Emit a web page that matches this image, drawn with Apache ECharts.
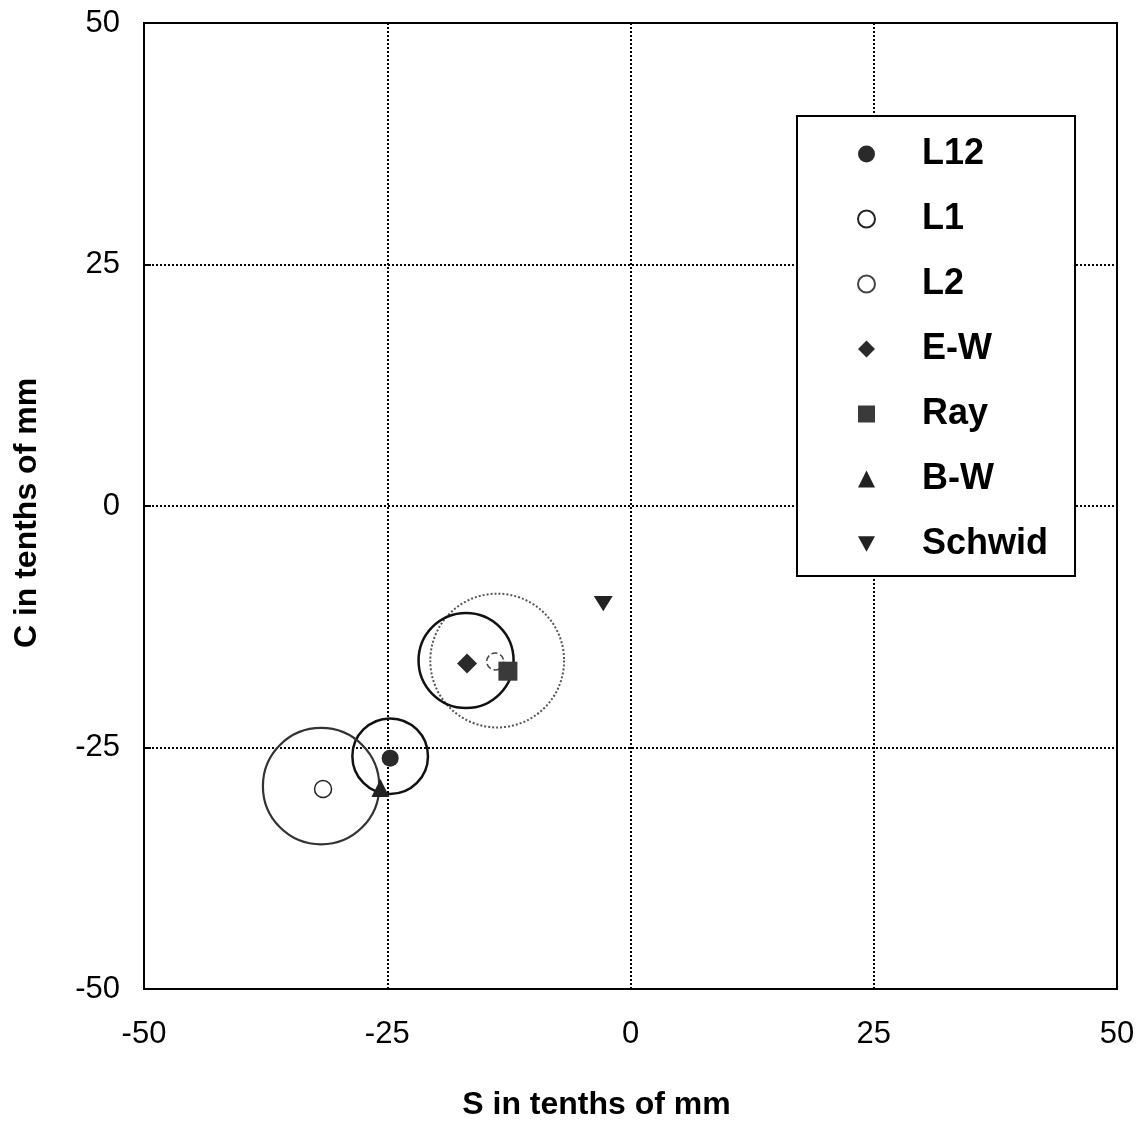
<!DOCTYPE html>
<html>
<head>
<meta charset="utf-8">
<script src="https://cdn.jsdelivr.net/npm/echarts@6/dist/echarts.min.js"></script>
<style>
html,body{margin:0;padding:0;background:#fff;}
#chart{width:1136px;height:1121px;}
</style>
</head>
<body>
<div id="chart"></div>
<script>
// ---- data ----
var seriesNames = ['L12', 'L1', 'L2', 'E-W', 'Ray', 'B-W', 'Schwid'];
var sValues = [-24.7, -31.6, -13.9, -16.8, -12.6, -25.7, -2.8];
var cValues = [-26.1, -29.3, -16.1, -16.3, -17.1, -29.2, -10.1];
var circleNames = ['L12', 'L1', 'L2', 'E-W'];
var circleS = [-24.7, -31.8, -13.7, -16.9];
var circleC = [-25.9, -29.0, -16.0, -16.0];
var circleR = [3.9, 6.0, 6.9, 4.9];
var tickValues = [-50, -25, 0, 25, 50];

// ---- styles ----
var markerStyles = {
  'L12':    {symbol: 'circle', size: 17, itemStyle: {color: '#2a2a2a', opacity: 1}},
  'L1':     {symbol: 'circle', size: 17, itemStyle: {color: '#fff', borderColor: '#222', borderWidth: 1.5, opacity: 1}},
  'L2':     {symbol: 'circle', size: 17, itemStyle: {color: '#fff', borderColor: '#444', borderWidth: 1.5, borderType: 'dashed', opacity: 1}},
  'E-W':    {symbol: 'diamond', size: 20, itemStyle: {color: '#2a2a2a', opacity: 1}},
  'Ray':    {symbol: 'rect', size: 19, itemStyle: {color: '#3a3a3a', opacity: 1}},
  'B-W':    {symbol: 'triangle', size: 18, itemStyle: {color: '#222', opacity: 1}},
  'Schwid': {symbol: 'path://M0,0 L10,0 L5,9 Z', size: [19, 17], itemStyle: {color: '#222', opacity: 1}}
};
var circleStyles = {
  'L12': {stroke: '#111', lineWidth: 2.5},
  'L1':  {stroke: '#333', lineWidth: 2.2},
  'L2':  {stroke: '#555', lineWidth: 2, lineDash: [2, 2]},
  'E-W': {stroke: '#111', lineWidth: 2.5}
};

var series = [];
circleNames.forEach(function (n, i) {
  series.push({
    type: 'custom',
    name: n + ' circle',
    silent: true,
    z: 1,
    data: [[circleS[i], circleC[i], circleR[i]]],
    renderItem: function (params, api) {
      var c = api.coord([api.value(0), api.value(1)]);
      var sz = api.size([api.value(2), api.value(2)]);
      var st = circleStyles[n];
      return {
        type: 'circle',
        shape: {cx: c[0], cy: c[1], r: (sz[0] + sz[1]) / 2},
        style: {fill: 'none', stroke: st.stroke, lineWidth: st.lineWidth, lineDash: st.lineDash || null}
      };
    }
  });
});
seriesNames.forEach(function (n, i) {
  var m = markerStyles[n];
  series.push({
    type: 'scatter',
    name: n,
    z: 5,
    symbol: m.symbol,
    symbolSize: m.size,
    symbolKeepAspect: true,
    itemStyle: m.itemStyle,
    data: [[sValues[i], cValues[i]]]
  });
});

var axisLabelStyle = {fontFamily: 'Liberation Sans, Arial', fontSize: 31, color: '#000'};
var splitLineStyle = {show: true, lineStyle: {color: '#000', width: 2, type: [2, 2]}};

var legendData = seriesNames.map(function (n) {
  return {name: n, textStyle: {padding: [0, 0, 0, 42]}};
});

var chart = echarts.init(document.getElementById('chart'), null, {renderer: 'canvas'});
chart.setOption({
  animation: false,
  backgroundColor: '#fff',
  grid: {left: 144, right: 19, top: 23, bottom: 132, containLabel: false, outerBoundsMode: 'none', show: true, borderColor: '#000', borderWidth: 2, backgroundColor: 'transparent', z: 3},
  xAxis: {
    type: 'value', min: -50, max: 50, interval: 25,
    axisLine: {show: true, onZero: false, lineStyle: {color: '#000', width: 2}},
    axisTick: {show: false},
    axisLabel: Object.assign({margin: 30, formatter: function (v) { return tickValues.indexOf(v) >= 0 ? String(v) : ''; }}, axisLabelStyle),
    splitLine: splitLineStyle,
    name: 'S in tenths of mm',
    nameLocation: 'middle',
    nameGap: 100,
    nameTextStyle: {fontFamily: 'Liberation Sans, Arial', fontSize: 32, fontWeight: 'bold', color: '#000', padding: [0, 68, 0, 0]}
  },
  yAxis: {
    type: 'value', min: -50, max: 50, interval: 25,
    axisLine: {show: true, onZero: false, lineStyle: {color: '#000', width: 2}},
    axisTick: {show: true, inside: true, length: 7, lineStyle: {color: '#000', width: 2}},
    axisLabel: Object.assign({margin: 24, formatter: function (v) { return tickValues.indexOf(v) >= 0 ? String(v) : ''; }}, axisLabelStyle),
    splitLine: splitLineStyle,
    name: 'C in tenths of mm',
    nameLocation: 'middle',
    nameGap: 101,
    nameTextStyle: {fontFamily: 'Liberation Sans, Arial', fontSize: 32, fontWeight: 'bold', color: '#000', padding: [0, 14, 0, 0]}
  },
  legend: {
    data: legendData,
    orient: 'vertical',
    left: 797,
    top: 116,
    backgroundColor: '#fff',
    borderColor: '#000',
    borderWidth: 2,
    padding: [20, 27, 14, 60],
    itemWidth: 17,
    itemHeight: 17,
    itemGap: 29,
    symbolKeepAspect: true,
    selectedMode: false,
    textStyle: {fontFamily: 'Liberation Sans, Arial', fontSize: 36, fontWeight: 'bold', color: '#000', lineHeight: 34}
  },
  series: series
});
</script>
</body>
</html>
